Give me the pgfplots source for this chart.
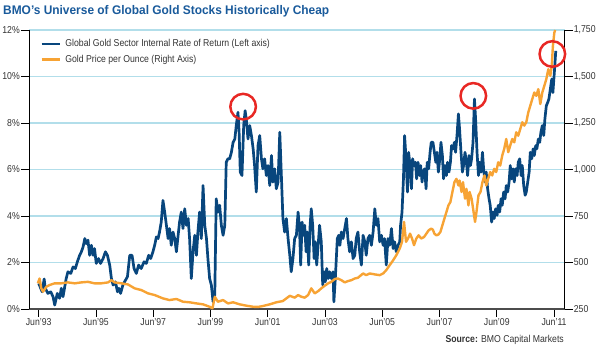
\documentclass[border=0pt]{standalone}
\usepackage{graphicx}
\usepackage{pgfplots}
\usepackage{pgfplotstable}
\pgfplotsset{compat=1.18}
\usepackage{fontspec}
\setmainfont{Liberation Sans}
\newfontfamily\cond[FakeStretch=0.87]{Liberation Sans}
\definecolor{bmoblue}{RGB}{8,70,125}
\definecolor{goldor}{RGB}{247,163,52}
\definecolor{gridc}{RGB}{178,222,234}
\definecolor{titleblue}{RGB}{25,90,155}
\definecolor{circred}{RGB}{232,40,36}

\pgfplotstableread{
x y
1993.50 1.10
1993.57 0.89
1993.62 0.74
1993.69 1.29
1993.73 0.89
1993.82 0.67
1993.92 0.74
1994.00 0.53
1994.06 0.17
1994.15 0.67
1994.23 0.46
1994.29 0.89
1994.35 0.53
1994.41 0.96
1994.46 1.31
1994.52 1.60
1994.62 1.53
1994.70 1.81
1994.78 1.74
1994.85 2.03
1994.93 2.31
1994.99 2.46
1995.05 2.67
1995.11 3.03
1995.16 2.81
1995.22 2.96
1995.28 2.31
1995.34 2.74
1995.40 2.31
1995.45 2.60
1995.51 1.96
1995.59 2.17
1995.66 1.96
1995.75 2.17
1995.83 2.46
1995.90 2.31
1995.98 1.89
1996.04 1.31
1996.10 1.03
1996.18 1.17
1996.25 0.74
1996.30 0.89
1996.36 0.67
1996.44 1.03
1996.50 1.17
1996.60 1.39
1996.68 2.31
1996.76 2.31
1996.83 1.74
1996.91 1.53
1996.99 1.89
1997.08 1.74
1997.18 2.03
1997.26 1.96
1997.34 2.31
1997.41 2.17
1997.49 2.46
1997.55 2.74
1997.61 3.10
1997.67 3.03
1997.72 3.31
1997.78 3.74
1997.84 4.67
1997.90 4.17
1997.96 3.60
1998.02 3.03
1998.07 3.46
1998.13 2.74
1998.19 3.31
1998.25 3.03
1998.31 2.46
1998.37 3.17
1998.42 3.74
1998.48 4.17
1998.54 3.46
1998.60 4.31
1998.66 3.60
1998.72 3.89
1998.77 3.03
1998.83 1.31
1998.89 2.46
1998.95 3.17
1999.01 2.31
1999.06 3.31
1999.12 4.17
1999.18 3.03
1999.24 5.31
1999.30 3.60
1999.36 3.03
1999.41 2.17
1999.47 1.31
1999.53 1.03
1999.59 0.31
1999.65 0.60
1999.70 4.74
1999.76 4.17
1999.82 4.46
1999.88 3.60
1999.94 3.17
2000.00 3.60
2000.05 6.31
2000.11 6.46
2000.17 6.46
2000.23 6.74
2000.29 7.17
2000.35 7.31
2000.40 7.89
2000.46 8.46
2000.50 7.60
2000.54 5.89
2000.60 5.74
2000.66 7.89
2000.71 8.53
2000.75 8.17
2000.81 7.31
2000.87 7.89
2000.93 7.46
2000.99 6.89
2001.04 6.17
2001.10 5.03
2001.16 7.03
2001.22 7.46
2001.28 6.46
2001.33 6.03
2001.39 6.46
2001.45 5.74
2001.51 6.17
2001.57 5.31
2001.63 6.60
2001.68 5.46
2001.74 6.03
2001.80 5.17
2001.86 5.46
2001.92 7.60
2001.98 5.60
2002.03 3.89
2002.09 3.31
2002.15 3.89
2002.21 3.03
2002.27 2.31
2002.32 1.60
2002.38 2.17
2002.44 3.03
2002.50 3.17
2002.56 4.17
2002.61 3.46
2002.65 1.89
2002.70 3.74
2002.74 3.17
2002.79 3.60
2002.84 2.46
2002.88 3.31
2002.93 1.89
2002.98 3.60
2003.02 4.31
2003.07 3.60
2003.12 2.17
2003.16 2.89
2003.21 1.89
2003.26 2.74
2003.31 3.60
2003.37 2.89
2003.42 1.03
2003.47 1.60
2003.51 1.17
2003.56 1.74
2003.61 1.31
2003.66 1.60
2003.72 1.31
2003.78 1.60
2003.81 0.31
2003.86 1.31
2003.93 3.03
2003.98 3.17
2004.02 2.74
2004.07 3.31
2004.13 3.03
2004.19 3.46
2004.25 3.89
2004.30 3.03
2004.36 2.46
2004.42 2.89
2004.48 2.17
2004.54 2.31
2004.59 3.03
2004.65 3.31
2004.71 2.46
2004.77 1.89
2004.83 3.17
2004.89 2.89
2004.94 2.31
2005.00 3.03
2005.06 3.17
2005.12 2.74
2005.18 3.31
2005.24 4.31
2005.29 3.60
2005.35 3.89
2005.41 2.89
2005.47 3.17
2005.53 2.74
2005.58 3.03
2005.64 1.89
2005.70 3.03
2005.76 2.74
2005.82 3.46
2005.88 2.60
2005.93 2.89
2005.99 2.46
2006.05 2.74
2006.11 2.89
2006.14 3.60
2006.19 4.17
2006.24 5.60
2006.28 7.46
2006.33 6.46
2006.38 5.03
2006.42 6.74
2006.47 6.17
2006.52 5.17
2006.56 6.46
2006.61 6.17
2006.66 6.31
2006.70 5.60
2006.75 6.31
2006.80 5.74
2006.84 6.17
2006.89 5.46
2006.93 5.89
2006.98 6.03
2007.03 5.17
2007.07 6.31
2007.12 6.03
2007.17 6.74
2007.21 7.17
2007.27 7.17
2007.32 6.74
2007.37 6.31
2007.41 6.74
2007.46 5.89
2007.51 6.46
2007.55 7.17
2007.60 6.60
2007.64 5.60
2007.69 6.17
2007.74 5.74
2007.78 6.31
2007.83 5.89
2007.88 6.31
2007.92 7.03
2007.97 6.89
2008.02 7.17
2008.06 6.74
2008.11 7.46
2008.16 8.39
2008.20 7.74
2008.25 6.74
2008.30 5.89
2008.34 6.17
2008.39 6.74
2008.44 6.31
2008.48 5.74
2008.53 6.60
2008.58 6.17
2008.62 6.46
2008.67 7.17
2008.72 9.03
2008.76 8.17
2008.81 6.74
2008.86 5.74
2008.90 6.31
2008.95 5.89
2009.00 6.74
2009.04 6.03
2009.09 5.46
2009.13 5.89
2009.18 5.17
2009.23 4.74
2009.27 4.46
2009.32 3.74
2009.37 4.17
2009.41 3.89
2009.46 4.31
2009.51 4.03
2009.55 4.46
2009.60 4.17
2009.65 4.74
2009.69 4.46
2009.74 5.03
2009.79 4.74
2009.83 5.31
2009.88 5.03
2009.93 5.46
2009.97 6.17
2010.02 5.60
2010.07 6.03
2010.11 5.46
2010.16 6.03
2010.21 5.74
2010.25 6.31
2010.30 6.46
2010.35 5.74
2010.39 6.17
2010.44 5.31
2010.49 4.89
2010.53 5.03
2010.58 5.46
2010.63 5.89
2010.67 6.74
2010.72 6.46
2010.77 6.89
2010.81 6.60
2010.86 7.03
2010.90 6.89
2010.95 7.31
2011.00 7.17
2011.04 7.60
2011.09 7.89
2011.14 7.46
2011.18 8.17
2011.23 8.74
2011.28 8.89
2011.32 9.03
2011.37 9.46
2011.42 9.89
2011.46 9.31
2011.51 10.17
2011.56 11.10
}\irr

\pgfplotstableread{
x y
1993.47 388
1993.53 414
1993.59 361
1993.65 343
1993.77 370
1993.88 379
1994.06 388
1994.29 388
1994.52 393
1994.76 388
1994.99 393
1995.22 396
1995.45 388
1995.69 388
1995.92 393
1996.04 405
1996.15 393
1996.39 388
1996.62 382
1996.85 361
1997.08 352
1997.32 334
1997.55 325
1997.84 307
1998.07 298
1998.31 304
1998.54 289
1998.77 286
1999.01 280
1999.24 275
1999.47 262
1999.57 254
1999.65 316
1999.76 289
1999.94 298
2000.11 280
2000.29 286
2000.52 275
2000.75 268
2000.99 262
2001.16 261
2001.33 266
2001.57 275
2001.80 286
2002.03 293
2002.27 321
2002.44 311
2002.56 325
2002.67 316
2002.79 311
2002.91 325
2003.02 361
2003.14 334
2003.26 346
2003.37 361
2003.49 375
2003.61 388
2003.72 396
2003.84 411
2003.95 414
2004.07 405
2004.19 393
2004.30 400
2004.42 405
2004.54 414
2004.65 418
2004.83 441
2004.94 432
2005.06 441
2005.24 436
2005.41 432
2005.53 441
2005.64 459
2005.76 486
2005.88 512
2005.99 539
2006.11 575
2006.19 611
2006.26 718
2006.33 611
2006.40 629
2006.47 655
2006.54 629
2006.61 593
2006.69 629
2006.77 646
2006.86 629
2006.96 637
2007.04 655
2007.12 673
2007.21 682
2007.27 676
2007.32 655
2007.39 646
2007.46 650
2007.53 664
2007.60 700
2007.67 736
2007.74 771
2007.81 807
2007.88 825
2007.95 879
2008.02 932
2008.09 950
2008.16 914
2008.20 941
2008.27 879
2008.32 932
2008.39 843
2008.44 896
2008.51 807
2008.55 879
2008.62 843
2008.69 771
2008.74 718
2008.79 771
2008.86 861
2008.93 879
2009.00 932
2009.07 968
2009.13 914
2009.20 950
2009.27 986
2009.34 968
2009.41 1004
2009.48 986
2009.55 1039
2009.62 1021
2009.69 1075
2009.76 1111
2009.83 1164
2009.90 1093
2009.97 1129
2010.04 1164
2010.11 1146
2010.18 1200
2010.25 1182
2010.32 1218
2010.39 1254
2010.46 1236
2010.53 1254
2010.60 1307
2010.67 1343
2010.74 1379
2010.81 1414
2010.88 1396
2010.95 1432
2011.02 1352
2011.09 1414
2011.16 1450
2011.23 1486
2011.30 1539
2011.37 1504
2011.42 1557
2011.46 1664
2011.51 1736
2011.54 1750
}\gold

\begin{document}
\begin{tikzpicture}
\useasboundingbox (0pt,0pt) rectangle (600pt,350pt);
\begin{axis}[
  at={(29pt,41pt)}, anchor=south west,
  width=535.7pt, height=279pt, scale only axis,
  xmin=1993.161, xmax=2011.872, ymin=0, ymax=12,
  axis x line*=bottom, axis y line*=left,
  axis line style={-},
  x axis line style={draw=black!70, line width=1.3pt},
  y axis line style={draw=black, line width=0.9pt},
  xtick={1993.5,1995.5,1997.5,1999.5,2001.5,2003.5,2005.5,2007.5,2009.5,2011.5},
  xticklabels={Jun’93,Jun’95,Jun’97,Jun’99,Jun’01,Jun’03,Jun’05,Jun’07,Jun’09,Jun’11},
  ytick={0,2,4,6,8,10,12},
  yticklabel={\pgfmathprintnumber{\tick}\%},
  ymajorgrids, major grid style={draw=gridc, line width=1.2pt},
  tick align=outside, major tick length=8pt,
  tick style={draw=black, line width=0.8pt},
  tick label style={font=\cond\fontsize{10}{12}\selectfont, text=black!80, inner sep=1pt},
  /pgf/number format/assume math mode=true,
]
\addplot[bmoblue, line width=2.7pt, line join=round] table {\irr};
\end{axis}
\begin{axis}[
  at={(29pt,41pt)}, anchor=south west,
  width=535.7pt, height=279pt, scale only axis,
  xmin=1993.161, xmax=2011.872, ymin=250, ymax=1750,
  axis x line=none, axis y line*=right,
  axis line style={-, draw=black, line width=0.9pt},
  ytick={250,500,750,1000,1250,1500,1750}, scaled y ticks=false,
  tick align=outside, major tick length=8pt,
  tick style={draw=black, line width=0.8pt},
  tick label style={font=\cond\fontsize{10}{12}\selectfont, text=black!80, inner sep=1pt},
  /pgf/number format/assume math mode=true,
  clip=false,
  legend cell align=left,
  legend style={at={(0.0205,0.972)}, anchor=north west, draw=none, fill=none,
    inner sep=0pt, row sep=4pt, column sep=3pt,
    nodes={inner sep=1.5pt},
    font=\cond\fontsize{10}{12}\selectfont, text=black!80},
  legend image code/.code={\draw[#1] (0pt,0pt) -- (18pt,0pt);},
]
\addlegendimage{bmoblue, line width=2.7pt}
\addlegendentry{Global Gold Sector Internal Rate of Return (Left axis)}
\addplot[goldor, line width=2.4pt, line join=round] table {\gold};
\addlegendentry{Gold Price per Ounce (Right Axis)}
\addplot[only marks, mark=o, mark size=12.8pt, circred, mark options={line width=2.5pt}, forget plot] coordinates {(2000.64,1338) (2008.68,1396) (2011.44,1621)};
\end{axis}
\node[anchor=base west, inner sep=0pt, text=titleblue, font=\bfseries\fontsize{12.5}{14}\selectfont] at (3pt,335pt) {\resizebox{326pt}{\height}{BMO’s Universe of Global Gold Stocks Historically Cheap}};
\node[anchor=base east, inner sep=0pt, font=\cond\fontsize{10}{12}\selectfont, text=black!80] at (564pt,7.5pt) {\textbf{Source:} BMO Capital Markets};
\end{tikzpicture}
\end{document}
